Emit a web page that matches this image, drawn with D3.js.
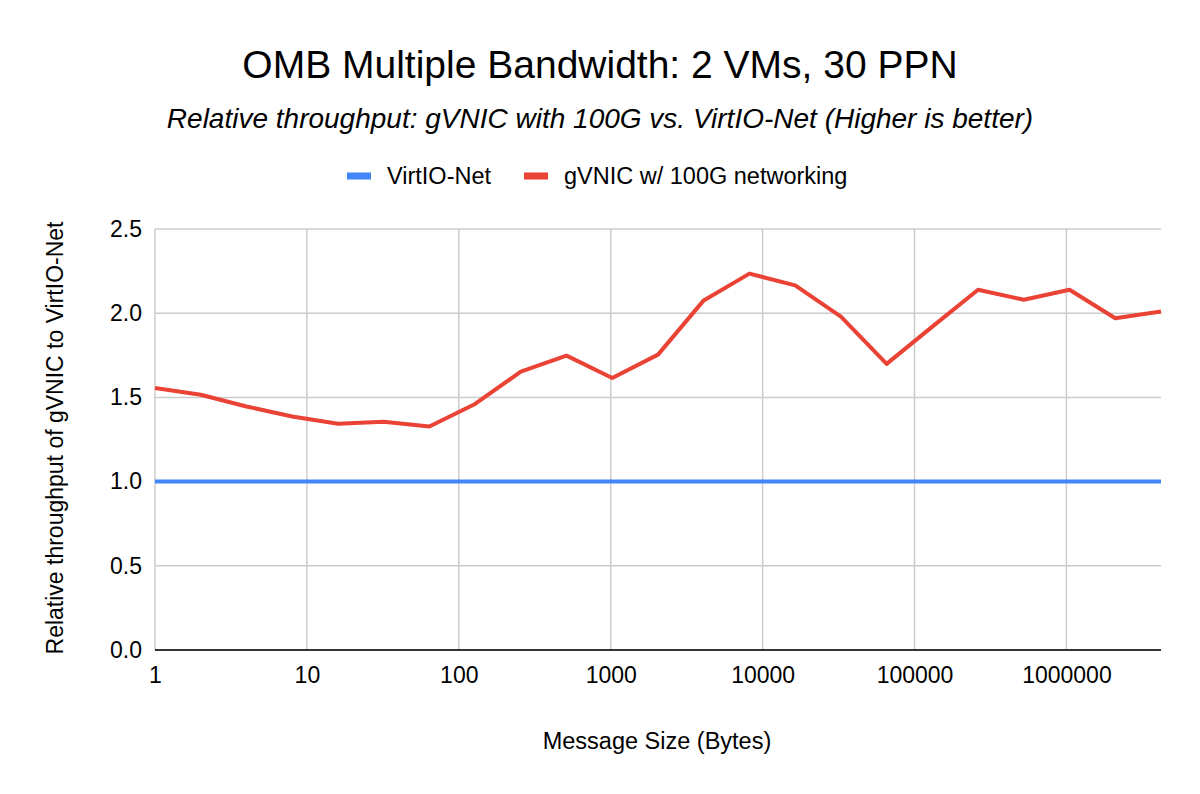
<!DOCTYPE html>
<html>
<head>
<meta charset="utf-8">
<script src="https://cdn.jsdelivr.net/npm/d3@7"></script>
<style>
  body { margin: 0; background: #fff; }
  text { font-family: "Liberation Sans", Arial, sans-serif; fill: #000; }
</style>
</head>
<body>
<div id="chart"></div>
<script>
// message sizes (bytes), powers of two
var sizes = [1, 2, 4, 8, 16, 32, 64, 128, 256, 512, 1024, 2048, 4096, 8192, 16384,
    32768, 65536, 131072, 262144, 524288, 1048576, 2097152, 4194304];
var virtio = sizes.map(function () { return 1.0; });
var gvnic = [1.556, 1.516, 1.446, 1.387, 1.343, 1.355, 1.327, 1.461, 1.653, 1.748, 1.615,
    1.754, 2.076, 2.235, 2.165, 1.980, 1.699, 1.920, 2.139, 2.080, 2.139, 1.970, 2.010];
var xTicks = [1, 10, 100, 1000, 10000, 100000, 1000000];
var yTicks = [0, 0.5, 1.0, 1.5, 2.0, 2.5];
var seriesNames = ['VirtIO-Net', 'gVNIC w/ 100G networking'];
var seriesColors = ['#4285f4', '#ea4335'];

var width = 1200, height = 794;
var m = { left: 155, right: 1161, top: 229, bottom: 650 };

var svg = d3.select('#chart').append('svg')
    .attr('width', width)
    .attr('height', height);

svg.append('rect').attr('width', width).attr('height', height).attr('fill', '#fff');

var x = d3.scaleLog().domain([1, 4194304]).range([m.left, m.right]);
var y = d3.scaleLinear().domain([0, 2.5]).range([m.bottom, m.top]);

// grid
svg.append('g').selectAll('line')
    .data(yTicks.slice(1))
    .join('line')
    .attr('x1', m.left).attr('x2', m.right)
    .attr('y1', d => y(d)).attr('y2', d => y(d))
    .attr('stroke', '#cccccc').attr('stroke-width', 1.5);

svg.append('g').selectAll('line')
    .data(xTicks)
    .join('line')
    .attr('x1', d => x(d)).attr('x2', d => x(d))
    .attr('y1', m.top).attr('y2', m.bottom)
    .attr('stroke', '#cccccc').attr('stroke-width', 1.5);

// tick labels
var yAxis = svg.append('g').attr('transform', `translate(${m.left},0)`)
    .call(d3.axisLeft(y).tickValues(yTicks).tickFormat(d3.format('.1f')).tickSize(0).tickPadding(13));
yAxis.select('.domain').remove();
yAxis.selectAll('text').style('font-size', '23px').attr('fill', '#222');

var xAxis = svg.append('g').attr('transform', `translate(0,${m.bottom})`)
    .call(d3.axisBottom(x).tickValues(xTicks).tickFormat(d3.format('d')).tickSize(0).tickPadding(0));
xAxis.select('.domain').remove();
xAxis.selectAll('text').style('font-size', '23px').attr('fill', '#222')
    .attr('dy', null).attr('y', 33);

// baseline
svg.append('line')
    .attr('x1', m.left).attr('x2', m.right)
    .attr('y1', y(0)).attr('y2', y(0))
    .attr('stroke', '#333').attr('stroke-width', 2);

// lines
var line = d3.line().x((d, i) => x(sizes[i])).y(d => y(d));
[virtio, gvnic].forEach(function (vals, i) {
    svg.append('path')
        .datum(vals)
        .attr('d', line)
        .attr('fill', 'none')
        .attr('stroke', seriesColors[i])
        .attr('stroke-width', 4)
        .attr('stroke-linejoin', 'round');
});

// titles
svg.append('text').text('OMB Multiple Bandwidth: 2 VMs, 30 PPN')
    .attr('x', 600).attr('y', 78).attr('text-anchor', 'middle')
    .style('font-size', '39px');

svg.append('text').text('Relative throughput: gVNIC with 100G vs. VirtIO-Net (Higher is better)')
    .attr('x', 600).attr('y', 128).attr('text-anchor', 'middle')
    .style('font-size', '28px').style('font-style', 'italic').attr('fill', '#222');

svg.append('text').text('Message Size (Bytes)')
    .attr('x', 657).attr('y', 749).attr('text-anchor', 'middle')
    .style('font-size', '23.5px').attr('fill', '#222');

svg.append('text').text('Relative throughput of gVNIC to VirtIO-Net')
    .attr('transform', `translate(63,438) rotate(-90)`)
    .attr('text-anchor', 'middle')
    .style('font-size', '23px').attr('fill', '#222');

// legend
var legX = [347, 524];
seriesNames.forEach(function (name, i) {
    var g = svg.append('g').attr('transform', `translate(${legX[i]},176)`);
    g.append('rect').attr('x', 0).attr('y', -3.5).attr('width', 24).attr('height', 7)
        .attr('fill', seriesColors[i]);
    g.append('text').text(name).attr('x', 40).attr('y', 7.5)
        .style('font-size', '23.5px').attr('fill', '#222');
});
</script>
</body>
</html>
